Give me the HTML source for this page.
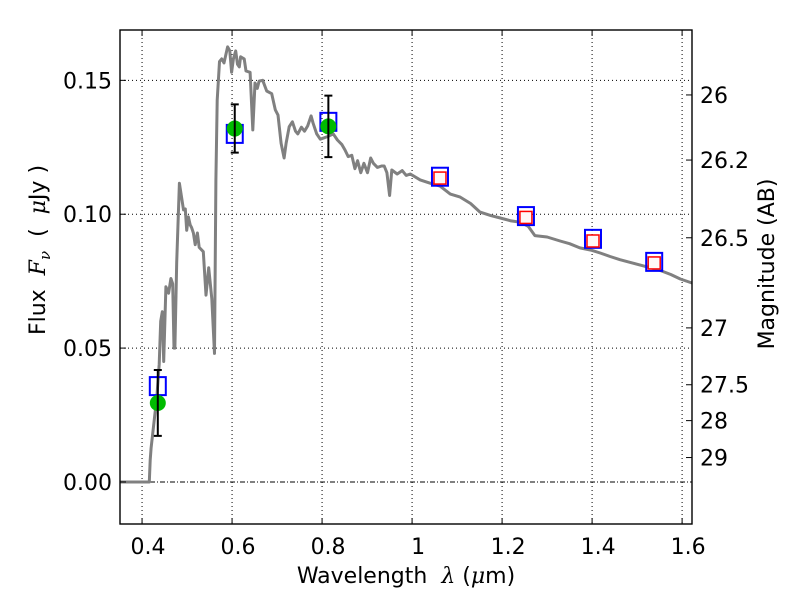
<!DOCTYPE html>
<html><head><meta charset="utf-8"><style>
body{margin:0;background:#fff;}
svg{display:block;font-family:"DejaVu Sans","Liberation Sans",sans-serif;}
</style></head><body>
<svg id="chart" width="800" height="600" viewBox="0 0 800 600" xmlns="http://www.w3.org/2000/svg">
<rect width="800" height="600" fill="#fff"/>
<g id="grid"></g>
<g id="spec"></g>
<g id="marks"></g>
<rect x="120" y="30" width="572" height="494" fill="none" stroke="#000" stroke-width="1.4"/>
<g id="axes"></g>
<text x="406" y="583" font-size="22" text-anchor="middle" xml:space="preserve">Wavelength  <tspan font-style="italic" font-family="DejaVu Serif, serif">λ</tspan> (<tspan font-style="italic" font-family="DejaVu Serif, serif">μ</tspan>m)</text>
<text transform="translate(45,250) rotate(-90)" font-size="22" text-anchor="middle" xml:space="preserve">Flux  <tspan font-style="italic" font-family="DejaVu Serif, serif">F</tspan><tspan font-style="italic" font-family="DejaVu Serif, serif" font-size="15" dy="5">ν</tspan><tspan dy="-5">  (  </tspan><tspan font-style="italic" font-family="DejaVu Serif, serif">μ</tspan>Jy )</text>
<text transform="translate(774,264) rotate(-90)" font-size="22" text-anchor="middle">Magnitude (AB)</text>
</svg>
<script>
const specLam=[0.35,0.416,0.418,0.420,0.433,0.438,0.4415,0.445,0.448,0.453,0.459,0.464,0.468,0.471,0.473,0.477,0.483,0.488,0.492,0.496,0.4993,0.503,0.507,0.510,0.514,0.518,0.523,0.527,0.536,0.542,0.548,0.555,0.561,0.564,0.567,0.572,0.577,0.582,0.5867,0.590,0.595,0.599,0.603,0.608,0.612,0.616,0.619,0.627,0.631,0.640,0.646,0.651,0.656,0.660,0.668,0.677,0.688,0.696,0.702,0.709,0.7156,0.720,0.727,0.734,0.741,0.746,0.754,0.761,0.768,0.7756,0.780,0.788,0.796,0.812,0.825,0.834,0.844,0.851,0.858,0.866,0.873,0.879,0.886,0.893,0.901,0.908,0.914,0.923,0.932,0.938,0.944,0.950,0.955,0.967,0.978,0.987,0.996,1.018,1.040,1.062,1.085,1.107,1.130,1.151,1.175,1.196,1.22,1.24,1.258,1.273,1.30,1.329,1.35,1.373,1.40,1.418,1.44,1.462,1.485,1.507,1.53,1.551,1.575,1.596,1.622];
const specFlux=[0,0,0.0082,0.0127,0.032,0.044,0.060,0.0636,0.045,0.0729,0.0705,0.076,0.074,0.050,0.050,0.082,0.1116,0.106,0.1016,0.102,0.094,0.099,0.096,0.095,0.093,0.0886,0.093,0.0876,0.086,0.0698,0.080,0.0685,0.048,0.1128,0.1426,0.157,0.158,0.1565,0.160,0.1625,0.161,0.153,0.158,0.161,0.156,0.155,0.1588,0.158,0.1535,0.153,0.1315,0.149,0.147,0.1497,0.150,0.146,0.145,0.139,0.137,0.1265,0.121,0.1265,0.1327,0.1345,0.131,0.130,0.1325,0.131,0.133,0.1367,0.134,0.130,0.128,0.129,0.130,0.1277,0.126,0.124,0.1215,0.122,0.117,0.120,0.1155,0.119,0.1155,0.121,0.119,0.1175,0.118,0.118,0.1155,0.107,0.1165,0.115,0.1163,0.1145,0.115,0.1128,0.1116,0.1105,0.1075,0.1064,0.104,0.1008,0.0995,0.0986,0.0975,0.097,0.0955,0.092,0.0915,0.090,0.089,0.0874,0.0865,0.0855,0.0842,0.083,0.082,0.081,0.080,0.079,0.0775,0.0758,0.0743];
const obsLam=[0.435,0.606,0.814];
const obsFlux=[0.0295,0.132,0.1328];
const obsErr=[0.0123,0.009,0.0115];
const modelLam=[0.435,0.606,0.814,1.062,1.253,1.402,1.538];
const modelFlux=[0.0358,0.130,0.1345,0.114,0.0993,0.0908,0.0822];
const redLam=[1.062,1.253,1.402,1.538];
const redFlux=[0.1135,0.0988,0.0900,0.0818];
const xTicks=[0.4,0.6,0.8,1.0,1.2,1.4,1.6];
const xTickLabels=["0.4","0.6","0.8","1","1.2","1.4","1.6"];
const yTicks=[0,0.05,0.10,0.15];
const yTickLabels=["0.00","0.05","0.10","0.15"];
const magTicks=[26,26.2,26.5,27,27.5,28,29];
const magTickLabels=["26","26.2","26.5","27","27.5","28","29"];

const NS="http://www.w3.org/2000/svg";
const X0=120,X1=692,Y0=524,Y1=30,LMIN=0.351,LMAX=1.622,FMIN=-0.0157,FMAX=0.1688;
function xs(l){return X0+(l-LMIN)/(LMAX-LMIN)*(X1-X0);}
function ys(f){return Y0-(f-FMIN)/(FMAX-FMIN)*(Y0-Y1);}
function mk(tag,attrs,parent){const e=document.createElementNS(NS,tag);for(const k in attrs)e.setAttribute(k,attrs[k]);parent.appendChild(e);return e;}
const grid=document.getElementById('grid'),axes=document.getElementById('axes'),spec=document.getElementById('spec'),marks=document.getElementById('marks');

xTicks.forEach((t,i)=>{const x=xs(t);
 const g=mk('line',{x1:x,x2:x,y1:Y1,y2:Y0,stroke:'#000','stroke-width':1,'stroke-dasharray':'1,3'},grid);
 
 
 mk('line',{x1:x,x2:x,y1:Y0,y2:Y0-6,stroke:'#000'},axes);
 mk('line',{x1:x,x2:x,y1:Y1,y2:Y1+6,stroke:'#000'},axes);
 const tx=mk('text',{x:x+6,y:554,'font-size':22,'text-anchor':'middle'},axes);tx.textContent=xTickLabels[i];
 
 
});
yTicks.forEach((t,i)=>{const y=ys(t);
 const g=mk('line',{x1:X0,x2:X1,y1:y,y2:y,stroke:'#000','stroke-width':1,'stroke-dasharray':t===0?'5,2,1,2':'1,3'},grid);
 
 
 mk('line',{x1:X0,x2:X0+6,y1:y,y2:y,stroke:'#000'},axes);
 const tx=mk('text',{x:112,y:y+8,'font-size':22,'text-anchor':'end'},axes);tx.textContent=yTickLabels[i];
 
 
});
magTicks.forEach((m,i)=>{const y=ys(Math.pow(10,(23.9-m)/2.5));
 mk('line',{x1:X1-6,x2:X1,y1:y,y2:y,stroke:'#000'},axes);
 const tx=mk('text',{x:700,y:y+8,'font-size':22,'text-anchor':'start'},axes);tx.textContent=magTickLabels[i];
 
 
});
const pts=specLam.map((l,i)=>xs(l).toFixed(1)+','+ys(specFlux[i]).toFixed(1)).join(' ');
const pl=mk('polyline',{points:pts,fill:'none',stroke:'#808080','stroke-width':3,'stroke-linejoin':'round'},spec);



modelLam.forEach((l,i)=>{const x=xs(l),y=ys(modelFlux[i]);
 const r=mk('rect',{x:x-8,y:y-9,width:16,height:18,fill:'none',stroke:'#0000ff','stroke-width':2},marks);
 
 
});
redLam.forEach((l,i)=>{const x=xs(l),y=ys(redFlux[i]);
 const r=mk('rect',{x:x-6,y:y-6,width:12,height:12,fill:'#fff8f8',stroke:'#ff0000','stroke-width':1.5},marks);
 
 
});
obsLam.forEach((l,i)=>{const x=xs(l),y=ys(obsFlux[i]),yt=ys(obsFlux[i]+obsErr[i]),yb=ys(obsFlux[i]-obsErr[i]);
 const c=mk('circle',{cx:x,cy:y,r:8,fill:'#00bb00'},marks);
 
 
 const e=mk('path',{d:`M${x},${yt}V${yb}M${x-4},${yt}H${x+4}M${x-4},${yb}H${x+4}`,stroke:'#000','stroke-width':2,fill:'none'},marks);
 
 
});
</script>
</body></html>
